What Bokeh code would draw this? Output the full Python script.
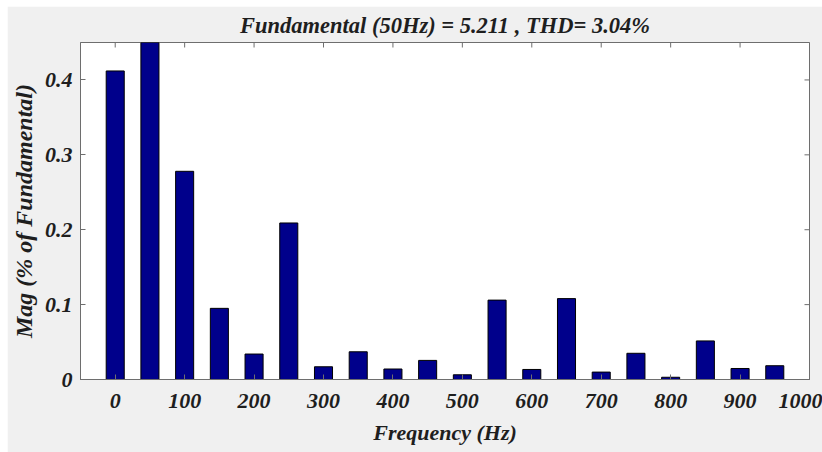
import math
from bokeh.plotting import figure
from bokeh.models import Range1d, FixedTicker
from bokeh.embed import file_html
from bokeh.resources import INLINE

# Harmonic spectrum (Hz) and magnitudes (% of fundamental)
freqs = [0, 50, 100, 150, 200, 250, 300, 350, 400, 450,
         500, 550, 600, 650, 700, 750, 800, 850, 900, 950]
mags = [0.412, 100.0, 0.278, 0.095, 0.034, 0.209, 0.017, 0.037, 0.014, 0.0255,
        0.0063, 0.106, 0.0134, 0.108, 0.0099, 0.035, 0.003, 0.0515, 0.0147, 0.0184]
x_ticks = [0, 100, 200, 300, 400, 500, 600, 700, 800, 900, 1000]
y_ticks = [0, 0.1, 0.2, 0.3, 0.4]
title_text = "Fundamental (50Hz) = 5.211 , THD= 3.04%"
x_label = "Frequency (Hz)"
y_label = "Mag (% of Fundamental)"

FONT = "Liberation Serif"
TXT = "#1e1e1e"
AX = "#6e6e6e"
BG = "#f0f0f0"
X0, X1 = -50, 1000
Y0, Y1 = 0, 0.45

p = figure(width=815, height=446, output_backend="svg", toolbar_location=None,
           x_range=Range1d(X0, X1), y_range=Range1d(Y0, Y1),
           min_border_left=70, min_border_right=13, min_border_top=36, min_border_bottom=73,
           background_fill_color="white", border_fill_color=BG)
p.margin = (6, 0, 0, 7)

p.vbar(x=freqs, top=mags, width=26, bottom=0, fill_color="#00008b",
       line_color="black", line_width=1)

# inward tick marks on the top and right edges of the box (half of each dash is clipped)
p.scatter(x=x_ticks, y=[Y1] * len(x_ticks), marker="dash", size=10, angle=math.pi / 2,
          line_color=AX, line_width=1)
p.scatter(x=[X1] * len(y_ticks), y=y_ticks, marker="dash", size=10,
          line_color=AX, line_width=1)

p.title.text = title_text
p.title.align = "center"
p.title.text_font = FONT
p.title.text_font_style = "bold italic"
p.title.text_font_size = "22.5px"
p.title.text_color = TXT
p.title.standoff = 9

p.xgrid.visible = False
p.ygrid.visible = False
p.outline_line_color = AX

for ax in (p.xaxis[0], p.yaxis[0]):
    ax.major_label_text_font = FONT
    ax.major_label_text_font_style = "bold italic"
    ax.major_label_text_font_size = "22px"
    ax.major_label_text_color = TXT
    ax.axis_label_text_font = FONT
    ax.axis_label_text_font_style = "bold italic"
    ax.axis_label_text_color = TXT
    ax.axis_line_color = AX
    ax.major_tick_line_color = AX
    ax.major_tick_in = 5
    ax.major_tick_out = 0
    ax.minor_tick_line_color = None

p.xaxis[0].ticker = FixedTicker(ticks=x_ticks)
p.yaxis[0].ticker = FixedTicker(ticks=y_ticks)
p.xaxis[0].axis_label = x_label
p.yaxis[0].axis_label = y_label
p.xaxis[0].axis_label_text_font_size = "22px"
p.yaxis[0].axis_label_text_font_size = "24px"
p.xaxis[0].major_label_standoff = 14
p.xaxis[0].axis_label_standoff = 9
p.yaxis[0].major_label_standoff = 8
p.yaxis[0].axis_label_standoff = 5
p.yaxis[0].major_label_overrides = {0: "0"}

open("out.html", "w").write(file_html(p, INLINE))
